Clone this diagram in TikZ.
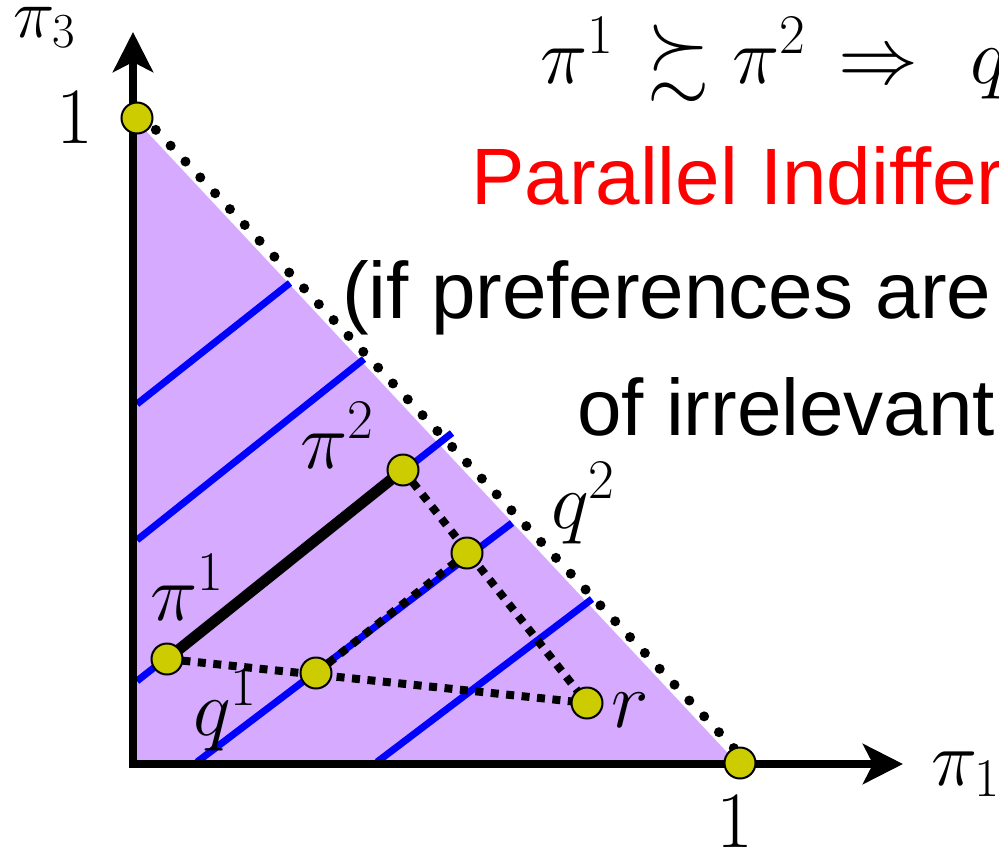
\RequirePackage{fix-cm}
\documentclass[tikz,border=0pt]{standalone}
\usepackage{fontspec}
\DeclareFontFamily{U}{msa}{}
\DeclareFontShape{U}{msa}{m}{n}{<-> msam10}{}
\DeclareFontFamily{U}{msb}{}
\DeclareFontShape{U}{msb}{m}{n}{<-> msbm10}{}
\usepackage{amssymb}
\newfontfamily\arialf{Liberation Sans}
\usetikzlibrary{arrows.meta}
\definecolor{lav}{RGB}{213,170,255}
\definecolor{ylw}{RGB}{204,204,0}
\definecolor{pblue}{RGB}{0,0,255}
\begin{document}
\begin{tikzpicture}[x=1pt,y=-1pt,
 dot/.style={circle,fill=ylw,draw=black,line width=2pt,minimum size=31pt,inner sep=0pt},
 lbl/.style={inner sep=0pt,anchor=base west,font=\fontsize{80}{80}\selectfont},
 txt/.style={inner sep=0pt,anchor=base west,font=\fontsize{80}{96}\selectfont\arialf},
 indiff/.style={pblue,line width=7pt},
 sqdot/.style={line width=8pt,dash pattern=on 8pt off 7.5pt},
 rdot/.style={line width=10pt,line cap=round,dash pattern=on 0pt off 21.7pt},
 axis/.style={line width=8pt,-{Stealth[length=40pt,width=40pt,inset=10pt]}}]
\useasboundingbox (0,0) rectangle (999,854);
\clip (0,0) rectangle (999,854);
% simplex
\fill[lav] (133,117) -- (738,764) -- (133,764) -- cycle;
% indifference lines
\coordinate (a1) at (137,404); \coordinate (b1) at (290,283);
\coordinate (a2) at (137,540); \coordinate (b2) at (364,359);
\coordinate (a3) at (137,681); \coordinate (b3) at (452,433);
\coordinate (a4) at (197,762); \coordinate (b4) at (512,523);
\coordinate (a5) at (377,762); \coordinate (b5) at (592,599);
\foreach \i in {1,...,5} {\draw[indiff] (a\i) -- (b\i);}
% points
\coordinate (cp1) at (167,659);
\coordinate (cp2) at (403,470);
\coordinate (cq2) at (467,553);
\coordinate (cq1) at (316,673);
\coordinate (cr) at (587,703);
\draw[line width=11pt] (cp1) -- (cp2);
\draw[sqdot] (cp1) -- (cr);
\draw[sqdot] (cp2) -- (cr);
\draw[sqdot] (cq1) -- (cq2);
% hypotenuse
\coordinate (ct) at (137,118);
\coordinate (cx) at (740,763);
\draw[rdot] ([shift={(4,-4)}]ct) -- ([shift={(4,-4)}]cx);
% axes
\draw[axis] (133,768) -- (133,32);
\draw[axis] (129,764) -- (903,764);
% circles
\node[dot] (top) at (ct) {};
\node[dot] (right) at (cx) {};
\node[dot] (p1) at (cp1) {};
\node[dot] (p2) at (cp2) {};
\node[dot] (q2) at (cq2) {};
\node[dot] (q1) at (cq1) {};
\node[dot] (r) at (cr) {};
% labels
\node[lbl,font=\fontsize{70}{70}\selectfont] (l3) at (13,37) {$\pi_3$};
\node[lbl,anchor=center] (one3) at (75,118) {$1$};
\node[lbl,anchor=center] (one1) at (735,822) {$1$};
\node[lbl,font=\fontsize{78}{78}\selectfont] (l1) at (931,785) {$\pi_1$};
\node[lbl] (lp2) at (300,468) {$\pi^2$};
\node[lbl] (lp1) at (150,620) {$\pi^1$};
\node[lbl] (lq1) at (193,735) {$q^1$};
\node[lbl] (lq2) at (551,528) {$q^2$};
\node[lbl] (lr) at (611,727) {$r$};
% formula and text
\node[lbl] (f) at (540,83) {$\pi^{1}\hspace{12pt}\succsim\pi^{2}\hspace{10pt}\Rightarrow\hspace{30pt}q$};
\node[txt,red] (t1) at (471,204) {Parallel Indiffer};
\node[txt] (t2) at (342,318) {(if preferences are};
\node[txt] (t3) at (577,435) {of irrelevant};
\end{tikzpicture}
\end{document}
